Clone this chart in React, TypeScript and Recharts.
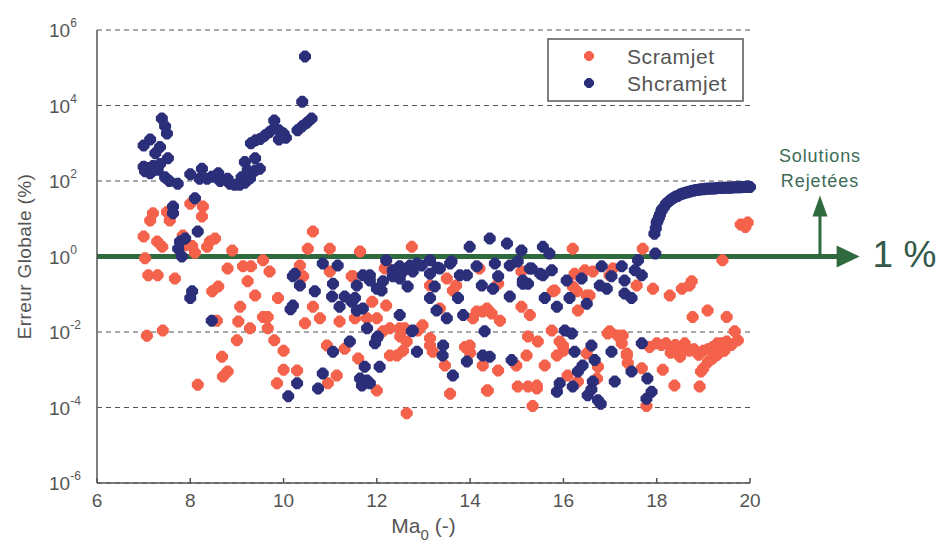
import React from "react";
import {
  ScatterChart,
  Scatter,
  XAxis,
  YAxis,
  CartesianGrid,
  ReferenceLine,
} from "recharts";

// [Ma0, erreur globale (%)]
const scramjet: [number, number][] = [
  [8.0, 25], [8.27, 21], [8.25, 11.5], [7.5, 15], [7.2, 14], [7.14, 9], [7.56, 9],
  [7.0, 3.4], [7.29, 2.5], [7.4, 1.8], [7.84, 3.6], [8.04, 1.9], [8.42, 2.5], [8.53, 3],
  [8.36, 1.8], [7.03, 0.9], [7.1, 0.32], [7.3, 0.32], [7.67, 0.26], [8.9, 1.45], [8.8, 0.48],
  [9.13, 0.55], [9.3, 0.55], [9.23, 0.22], [9.7, 0.4], [9.56, 0.8], [8.47, 0.12], [8.6, 0.16],
  [9.39, 0.093], [9.88, 0.08], [9.07, 0.047], [9.56, 0.025], [9.66, 0.025], [9.03, 0.019],
  [9.28, 0.0125], [9.66, 0.0125], [8.57, 0.02], [7.07, 0.008], [7.41, 0.011], [9.0, 0.006],
  [9.8, 0.006], [10.0, 0.0032], [8.68, 0.0022], [8.8, 0.0009], [8.7, 0.00066], [8.16, 0.0004],
  [10.0, 0.001], [9.86, 0.00044], [7.9, 2.0], [8.1, 1.26],
  [10.63, 4.6], [10.52, 1.6], [10.99, 1.6], [11.64, 1.35], [12.75, 1.8], [10.35, 0.58],
  [10.99, 0.4], [11.46, 0.3], [10.42, 0.3], [12.2, 0.55], [13.5, 0.26], [13.63, 0.126],
  [10.63, 0.047], [10.78, 0.023], [10.46, 0.017], [11.2, 0.019], [11.53, 0.023], [11.79, 0.023],
  [11.9, 0.063], [12.2, 0.05], [12.0, 0.023], [12.28, 0.0126], [12.5, 0.0076], [12.6, 0.0126],
  [12.88, 0.011], [12.98, 0.015], [14.06, 0.023], [14.36, 0.042], [10.93, 0.0044], [11.31, 0.0036],
  [11.6, 0.002], [12.43, 0.0024], [12.56, 0.0032], [13.14, 0.0044], [13.2, 0.003], [13.46, 0.0013],
  [13.89, 0.004], [14.0, 0.0028], [10.29, 0.00095], [11.14, 0.0007], [10.95, 0.00044],
  [12.0, 0.00028], [13.57, 0.00023], [14.36, 0.00028], [12.64, 0.00007],
  [14.2, 0.48], [13.7, 0.17], [11.49, 0.3], [12.17, 0.48], [14.14, 0.035], [18.7, 0.17],
  [16.2, 1.6], [17.7, 1.6], [16.24, 0.35], [16.46, 0.43], [17.06, 0.48], [15.1, 0.4], [14.6, 0.19],
  [15.81, 0.126], [16.2, 0.16], [17.57, 0.17], [17.92, 0.14], [18.28, 0.093], [18.54, 0.14],
  [16.56, 0.093], [16.31, 0.037], [15.1, 0.047], [14.46, 0.031], [14.64, 0.02], [15.24, 0.0076],
  [15.45, 0.0056], [15.75, 0.011], [15.92, 0.0056], [16.0, 0.0032], [15.86, 0.0024], [16.95, 0.0091],
  [17.16, 0.0081], [17.25, 0.005], [17.36, 0.0027], [16.5, 0.0027], [16.74, 0.0012], [17.38, 0.0015],
  [17.68, 0.0011], [14.99, 0.0013], [15.6, 0.0013], [14.6, 0.00095], [16.09, 0.0007], [16.31, 0.00049],
  [16.72, 0.00059], [15.02, 0.00036], [15.24, 0.00036], [15.43, 0.00032], [14.38, 0.00028],
  [18.38, 0.00038], [15.34, 0.00011], [17.78, 0.00011],
  [13.14, 0.17], [13.35, 0.042], [14.27, 0.035], [15.28, 0.028], [15.77, 0.12], [16.29, 0.12],
  [16.5, 0.093], [16.63, 0.4], [16.99, 0.32], [12.13, 0.0105], [12.49, 0.0126], [12.28, 0.0024],
  [12.64, 0.0056], [13.14, 0.0068], [13.99, 0.0044], [14.27, 0.0013], [15.21, 0.0024],
  [15.43, 0.00038], [15.99, 0.0044], [17.36, 0.0024], [16.99, 0.0105], [17.27, 0.0081],
  [19.8, 7], [19.95, 8], [19.9, 6], [19.41, 0.8], [18.75, 0.22], [18.77, 0.025], [19.09, 0.037],
  [19.5, 0.025], [19.67, 0.0105], [19.74, 0.006],
  [17.85, 0.004], [18.0, 0.005], [18.1, 0.0045], [18.2, 0.005], [18.3, 0.004], [18.4, 0.0045],
  [18.5, 0.0035], [18.6, 0.005], [18.7, 0.0032], [18.8, 0.0035], [18.9, 0.0025], [19.0, 0.0032],
  [19.1, 0.0035], [19.2, 0.004], [19.3, 0.005], [19.4, 0.005], [19.5, 0.0056], [19.6, 0.0045],
  [19.45, 0.0032], [19.3, 0.0025], [19.2, 0.002], [19.1, 0.0016], [19.0, 0.0011], [18.95, 0.0009],
  [18.5, 0.0022], [18.3, 0.0028], [18.13, 0.001], [18.92, 0.00036],
];

const shcramjet: [number, number][] = [
  [10.46, 2.0e5], [10.4, 1.26e4], [10.3, 2200], [10.4, 2800], [10.5, 3500], [10.6, 4500],
  [9.3, 1000], [9.4, 1200], [9.5, 1300], [9.6, 1600], [9.7, 2000], [9.8, 4000], [9.8, 2500],
  [9.9, 2200], [10.0, 1800], [10.05, 1400], [9.9, 1250],
  [7.39, 4500], [7.46, 2800], [7.5, 1800], [7.35, 800], [7.14, 1250], [7.0, 870], [7.25, 540],
  [7.0, 240], [7.1, 220], [7.2, 250], [7.3, 200], [7.14, 160], [7.46, 125], [7.52, 400],
  [7.55, 100], [7.73, 85], [8.0, 150], [8.2, 115], [8.36, 115], [8.25, 210], [8.46, 130],
  [8.64, 100], [8.85, 85], [9.06, 80], [9.17, 90], [9.28, 118], [9.39, 190], [9.23, 190],
  [9.17, 320], [9.39, 400], [9.49, 210], [8.6, 160], [8.8, 115], [7.03, 180], [8.95, 80],
  [9.1, 125], [7.35, 280],
  [8.1, 35], [7.63, 21], [7.63, 14], [8.16, 4.6], [7.78, 2.5], [7.89, 3], [7.74, 1.6], [7.82, 1.0],
  [8.04, 0.12], [8.0, 0.08], [8.46, 0.02], [10.1, 0.0002], [10.2, 0.05], [10.2, 0.3],
  [10.24, 0.35], [10.84, 0.65], [11.16, 0.58], [10.35, 0.17], [11.06, 0.19], [10.67, 0.12],
  [11.04, 0.087], [11.31, 0.087], [11.46, 0.063], [11.2, 0.047], [11.57, 0.037], [10.15, 0.04],
  [11.85, 0.23], [12.1, 0.126], [12.34, 0.3], [12.49, 0.55], [12.66, 0.16], [12.71, 0.58],
  [12.96, 0.58], [13.14, 0.35], [13.24, 0.16], [13.6, 0.74], [13.78, 0.32], [13.99, 1.8],
  [14.14, 0.55], [14.25, 0.17], [12.49, 0.028], [13.14, 0.08], [13.28, 0.037], [13.5, 0.023],
  [12.75, 0.0105], [12.02, 0.0076], [11.96, 0.005], [11.42, 0.0056], [11.06, 0.003], [12.86, 0.003],
  [13.41, 0.0024], [13.93, 0.00166], [14.27, 0.0024], [11.74, 0.0012], [12.06, 0.0012],
  [10.84, 0.0008], [11.79, 0.00052], [11.68, 0.00038], [10.29, 0.00044], [10.74, 0.00032],
  [13.63, 0.0007],
  [12.2, 0.8], [12.56, 0.4], [13.14, 0.8], [13.57, 0.65], [11.7, 0.32], [12.0, 0.14], [11.53, 0.08],
  [11.7, 0.042], [12.34, 0.43], [12.86, 0.65], [13.74, 0.08], [13.3, 0.5],
  [11.85, 0.32], [12.13, 0.22], [11.57, 0.17], [12.49, 0.26], [12.77, 0.4], [13.35, 0.48],
  [13.93, 0.32], [14.85, 0.58], [15.28, 0.48], [15.56, 0.32], [15.13, 0.19], [11.79, 0.0126],
  [12.0, 0.0068], [12.77, 0.011], [13.85, 0.028], [13.42, 0.0044], [11.64, 0.00059], [11.85, 0.00044],
  [14.42, 3], [14.79, 2.2], [15.1, 1.45], [15.56, 1.8], [15.7, 1.2], [14.53, 0.65], [15.02, 0.74],
  [15.32, 0.48], [15.5, 0.35], [15.75, 0.43], [14.6, 0.3], [15.13, 0.23], [15.24, 0.19],
  [14.49, 0.14], [14.85, 0.087], [15.6, 0.08], [15.86, 0.047], [16.07, 0.23], [16.13, 0.08],
  [16.39, 0.26], [16.5, 0.056], [16.82, 0.55], [17.03, 0.3], [16.78, 0.17], [16.93, 0.14],
  [17.25, 0.55], [17.31, 0.23], [17.31, 0.105], [17.46, 0.08], [17.53, 0.43], [17.68, 0.32],
  [17.6, 0.8], [17.97, 1.2],
  [16.03, 0.011], [16.18, 0.0091], [16.24, 0.003], [16.6, 0.0044], [16.41, 0.0013], [16.31, 0.0009],
  [16.67, 0.0018], [16.63, 0.00049], [15.92, 0.00044], [15.86, 0.00026], [16.2, 0.00036],
  [16.52, 0.00021], [16.74, 0.000155], [17.1, 0.00049], [17.03, 0.003], [17.46, 0.0009],
  [17.68, 0.005], [17.8, 0.00059], [17.89, 0.00026], [17.78, 0.00017], [14.42, 0.0022],
  [14.89, 0.0018], [14.31, 0.0105], [16.6, 0.0003], [16.8, 0.000126],
  [17.95, 4], [17.98, 5.6], [18.0, 7.9], [18.02, 9], [18.05, 11], [18.07, 13], [18.1, 16],
  [18.12, 18], [18.15, 20], [18.2, 25], [18.25, 28], [18.3, 32], [18.35, 35], [18.4, 38],
  [18.45, 40], [18.5, 44], [18.55, 46], [18.6, 48], [18.65, 50], [18.7, 52], [18.75, 54],
  [18.8, 56], [18.85, 58], [18.9, 59], [18.95, 60], [19.0, 60], [19.05, 62], [19.1, 62],
  [19.15, 63], [19.2, 63], [19.25, 63], [19.3, 65], [19.35, 65], [19.4, 65], [19.45, 66],
  [19.5, 66], [19.55, 66], [19.6, 66], [19.65, 68], [19.7, 68], [19.75, 68], [19.8, 68],
  [19.85, 69], [19.9, 69], [19.95, 71], [20.0, 69],
];

const maTicks = [6, 8, 10, 12, 14, 16, 18, 20];
const errTicks = [1e-6, 1e-4, 1e-2, 1, 1e2, 1e4, 1e6];

// 1 % rejection threshold and the annotation arrows around it
const seuil = 1;
const seuilEndMa = 22.35;
const rejectMa = 21.5;
const rejectTopErr = 41;

const ORANGE = "#f4624c";
const NAVY = "#2b2f7a";
const GREEN = "#2f6a3f";
const GREY = "#555555";
const FONT = "'Liberation Sans', Arial, sans-serif";

const toPoints = (pts: [number, number][]) => pts.map(([x, y]) => ({ x, y }));

// chunky rounded-diamond marker
const Blob = ({ cx, cy, fill, r = 6 }: any) => {
  if (cx == null || cy == null) return null;
  const b = r * 0.33;
  const pts = [
    [cx - b, cy - r], [cx + b, cy - r], [cx + r, cy - b], [cx + r, cy + b],
    [cx + b, cy + r], [cx - b, cy + r], [cx - r, cy + b], [cx - r, cy - b],
  ]
    .map((p) => p.join(","))
    .join(" ");
  return <polygon points={pts} fill={fill} />;
};

const YTick = ({ x, y, payload }: any) => {
  const exp = Math.round(Math.log10(payload.value));
  return (
    <text x={x - 48} y={y + 7} fill={GREY} fontSize={19} fontFamily={FONT}>
      10
      <tspan fontSize={12} dy={-10}>
        {exp}
      </tspan>
    </text>
  );
};

const XTick = ({ x, y, payload }: any) => (
  <g>
    <line x1={x} y1={y} x2={x} y2={y - 5} stroke={GREY} strokeWidth={1.5} />
    <text x={x} y={y + 24} textAnchor="middle" fill={GREY} fontSize={19} fontFamily={FONT}>
      {payload.value}
    </text>
  </g>
);

const ThresholdArrow = ({ x1, y1, x2 }: any) => {
  const head = 23;
  return (
    <g>
      <line x1={x1} y1={y1} x2={x2 - head + 2} y2={y1} stroke={GREEN} strokeWidth={5} />
      <polygon points={`${x2},${y1} ${x2 - head},${y1 - 11} ${x2 - head},${y1 + 11}`} fill={GREEN} />
      <text x={x2 + 13} y={y1 + 10} fontSize={37} fill="#33584a" fontFamily={FONT}>
        1 %
      </text>
    </g>
  );
};

const RejectArrow = ({ x1, y1, y2 }: any) => {
  const head = 21;
  return (
    <g>
      <line x1={x1} y1={y1} x2={x1} y2={y2 + head - 2} stroke={GREEN} strokeWidth={3} />
      <polygon points={`${x1},${y2} ${x1 - 7.5},${y2 + head} ${x1 + 7.5},${y2 + head}`} fill={GREEN} />
      <text x={x1} y={y2 - 34} textAnchor="middle" fontSize={18} letterSpacing={0.9} fill="#3b6b56" fontFamily={FONT}>
        Solutions
      </text>
      <text x={x1} y={y2 - 9} textAnchor="middle" fontSize={18} letterSpacing={0.9} fill="#3b6b56" fontFamily={FONT}>
        Rejetées
      </text>
    </g>
  );
};

const App = () => {
  return (
    <div style={{ position: "absolute", left: 0, top: 0, width: 945, height: 544, background: "#fff", fontFamily: FONT }}>
      <ScatterChart width={945} height={544} margin={{ top: 30, right: 195, bottom: 21, left: 37 }}>
        <CartesianGrid vertical={false} stroke={GREY} strokeDasharray="5 4" strokeWidth={1.2} />
        <XAxis
          type="number"
          dataKey="x"
          domain={[6, 20]}
          ticks={maTicks}
          height={40}
          tickSize={0}
          tickMargin={0}
          tickLine={false}
          axisLine={{ stroke: GREY, strokeWidth: 1.5 }}
          tick={<XTick />}
          label={({ viewBox }: any) => (
            <text
              x={viewBox.x + viewBox.width / 2}
              y={viewBox.y + 50}
              textAnchor="middle"
              fill={GREY}
              fontSize={21}
              fontFamily={FONT}
            >
              Ma
              <tspan fontSize={15} dy={7}>0</tspan>
              <tspan dy={-7}> (-)</tspan>
            </text>
          )}
        />
        <YAxis
          type="number"
          dataKey="y"
          scale="log"
          domain={[1e-6, 1e6]}
          allowDataOverflow
          ticks={errTicks}
          width={60}
          tickSize={0}
          tickMargin={0}
          tickLine={false}
          axisLine={{ stroke: GREY, strokeWidth: 1.5 }}
          tick={<YTick />}
          label={({ viewBox }: any) => {
            const cx = viewBox.x - 13;
            const cy = viewBox.y + viewBox.height / 2;
            return (
              <text
                x={cx}
                y={cy}
                transform={`rotate(-90 ${cx} ${cy})`}
                textAnchor="middle"
                dominantBaseline="central"
                fill={GREY}
                fontSize={19}
                letterSpacing={0.4}
                fontFamily={FONT}
              >
                Erreur Globale (%)
              </text>
            );
          }}
        />
        <Scatter
          name="Scramjet"
          data={toPoints(scramjet)}
          isAnimationActive={false}
          shape={(p: any) => <Blob cx={p.cx} cy={p.cy} fill={ORANGE} />}
        />
        <Scatter
          name="Shcramjet"
          data={toPoints(shcramjet)}
          isAnimationActive={false}
          shape={(p: any) => <Blob cx={p.cx} cy={p.cy} fill={NAVY} />}
        />
        <ReferenceLine
          segment={[
            { x: 6, y: seuil },
            { x: seuilEndMa, y: seuil },
          ]}
          ifOverflow="visible"
          shape={(p: any) => <ThresholdArrow {...p} />}
        />
        <ReferenceLine
          segment={[
            { x: rejectMa, y: seuil },
            { x: rejectMa, y: rejectTopErr },
          ]}
          ifOverflow="visible"
          shape={(p: any) => <RejectArrow {...p} />}
        />
      </ScatterChart>
      <svg
        width={945}
        height={544}
        style={{ position: "absolute", left: 0, top: 0, pointerEvents: "none" }}
      >
        <rect x={548} y={39} width={195} height={62} fill="#fff" stroke={GREY} strokeWidth={1.5} />
        <Blob cx={589} cy={56} r={5} fill={ORANGE} />
        <Blob cx={589} cy={83} r={5} fill={NAVY} />
        <text x={627} y={64} fontSize={21} letterSpacing={0.6} fill={GREY} fontFamily={FONT}>
          Scramjet
        </text>
        <text x={627} y={91} fontSize={21} letterSpacing={0.6} fill={GREY} fontFamily={FONT}>
          Shcramjet
        </text>
      </svg>
    </div>
  );
};

export default App;
